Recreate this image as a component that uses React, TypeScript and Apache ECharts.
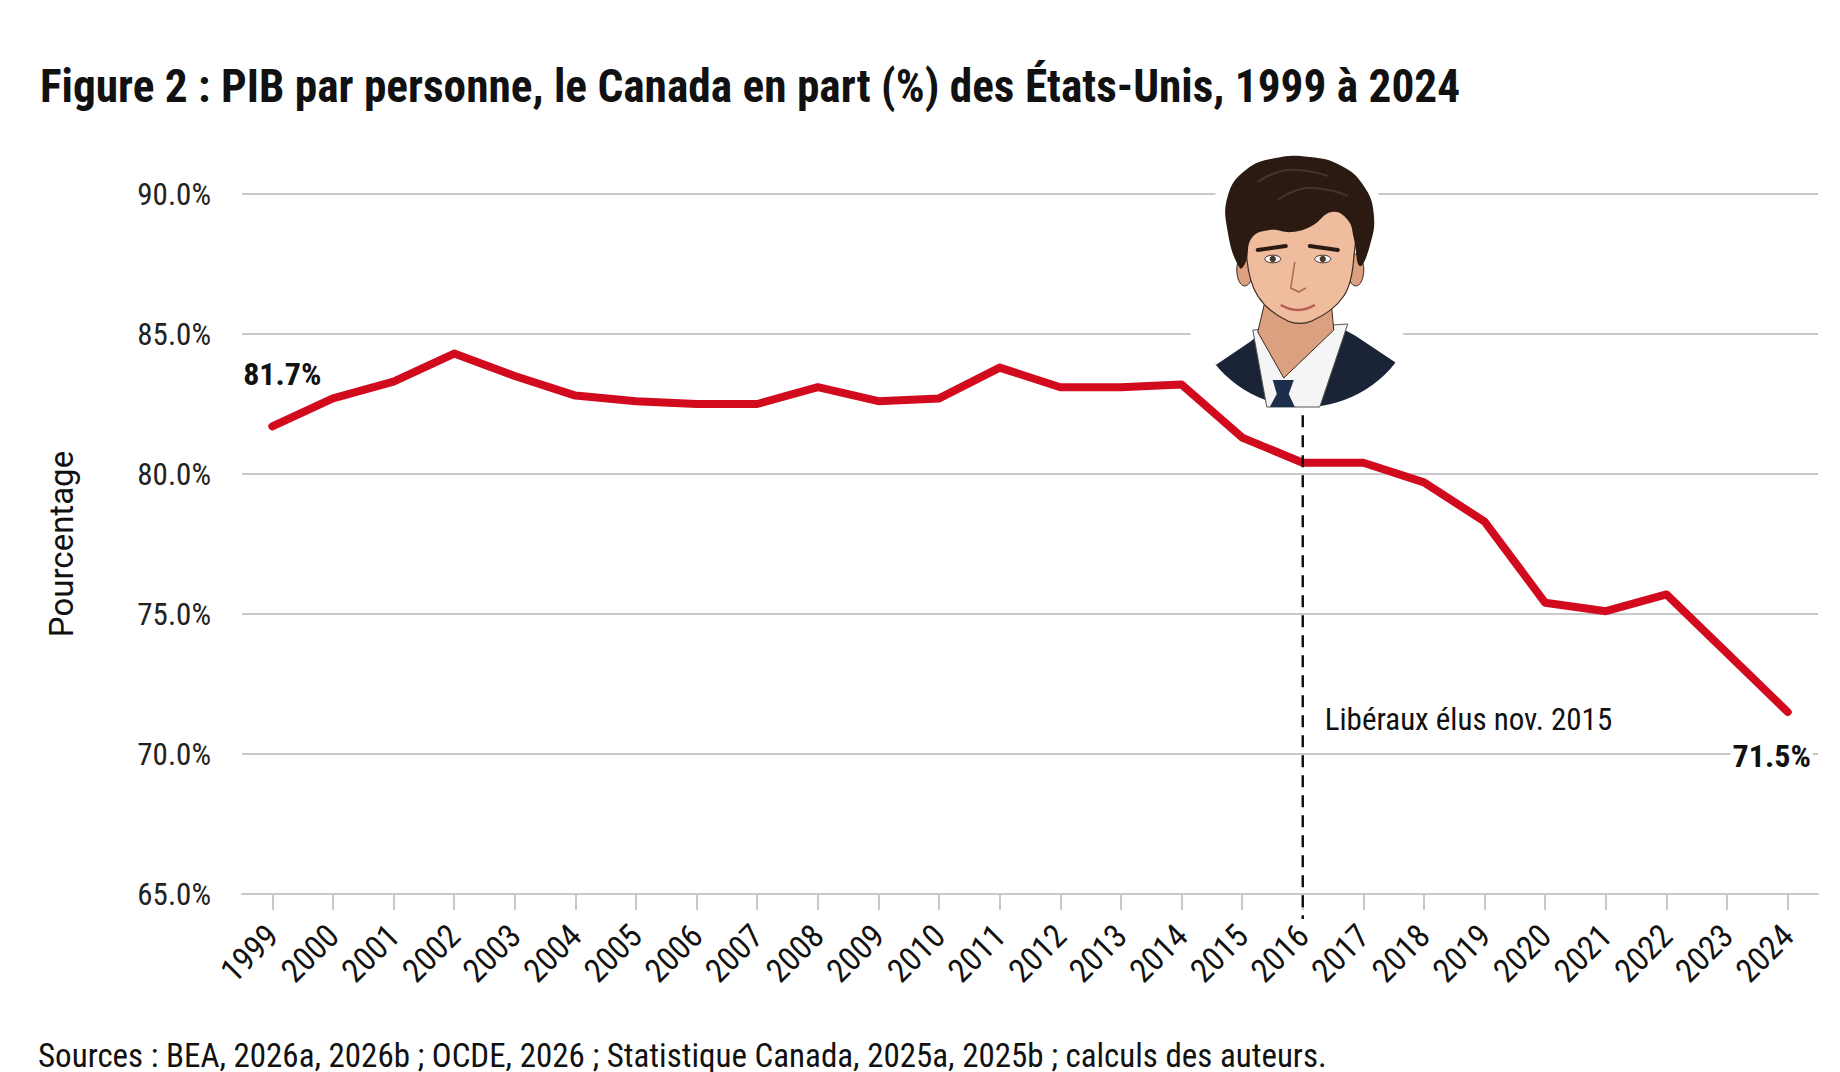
import React, { useEffect, useRef } from "react";
import * as echarts from "echarts";

const TITLE = "Figure 2 : PIB par personne, le Canada en part (%) des États-Unis, 1999 à 2024";
const SOURCE = "Sources : BEA, 2026a, 2026b ; OCDE, 2026 ; Statistique Canada, 2025a, 2025b ; calculs des auteurs.";
const Y_NAME = "Pourcentage";
const ANNOTATION = "Libéraux élus nov. 2015";

const years = [
  "1999", "2000", "2001", "2002", "2003", "2004", "2005", "2006", "2007", "2008",
  "2009", "2010", "2011", "2012", "2013", "2014", "2015", "2016", "2017", "2018",
  "2019", "2020", "2021", "2022", "2023", "2024",
];
const shareOfUS = [
  81.7, 82.7, 83.3, 84.3, 83.5, 82.8, 82.6, 82.5, 82.5, 83.1,
  82.6, 82.7, 83.8, 83.1, 83.1, 83.2, 81.3, 80.4, 80.4, 79.7,
  78.3, 75.4, 75.1, 75.7, 73.6, 71.5,
];
const Y_MIN = 65;
const Y_MAX = 90;
const Y_STEP = 5;
const ELECTION_YEAR = "2016";
const LABELLED_YEARS = ["1999", "2024"];

const COND = "'Roboto Condensed', 'Liberation Sans Narrow', 'Arial Narrow', 'DejaVu Sans Condensed', Roboto, sans-serif";
const RED = "#d20a1e";
const GRID = "#c9c9c9";

function portrait(cx: number): any[] {
  const skin = "#efbd9e";
  const skinDark = "#dba07f";
  const hair = "#2a1a12";
  const navy = "#1b2436";
  const line = "#3a2a22";
  const P = (dx: number, y: number) => [cx + dx, y];
  const arc: number[][] = [];
  for (let a = 38; a <= 142; a += 4) {
    const r = (a * Math.PI) / 180;
    arc.push([cx + 7 + 115 * Math.cos(r), 292 + 115 * Math.sin(r)]);
  }
  const suit = [P(-82, 365), P(-48, 342), P(-32, 330), P(40, 326), P(58, 336), P(97, 362), ...arc];
  return [
    { type: "ellipse", z: 1, shape: { cx: cx - 1, cy: 290, rx: 112, ry: 140 }, style: { fill: "#ffffff" } },
    { type: "polygon", z: 5, shape: { points: suit }, style: { fill: navy } },
    { type: "polygon", z: 5, shape: { points: [P(-45, 330), P(50, 324), P(22, 407), P(-31, 407)] }, style: { fill: "#f5f5f5", stroke: "#555", lineWidth: 1 } },
    { type: "polygon", z: 5, shape: { points: [P(-32, 298), P(33, 298), P(36, 330), P(-14, 378), P(-40, 332)] }, style: { fill: skinDark, stroke: line, lineWidth: 1 } },
    { type: "polygon", z: 5, shape: { points: [P(-25, 380), P(-4, 380), P(-9, 394), P(-21, 394)] }, style: { fill: "#1d2e4d" } },
    { type: "polygon", z: 5, shape: { points: [P(-21, 394), P(-9, 394), P(-3, 407), P(-28, 407)] }, style: { fill: "#1d2e4d" } },
    { type: "ellipse", z: 5, shape: { cx: cx - 53, cy: 270, rx: 8, ry: 16 }, style: { fill: skinDark, stroke: line, lineWidth: 1 } },
    { type: "ellipse", z: 5, shape: { cx: cx + 58, cy: 270, rx: 8, ry: 16 }, style: { fill: skinDark, stroke: line, lineWidth: 1 } },
    {
      type: "polygon", z: 5,
      shape: { smooth: 0.35, points: [P(-48, 212), P(52, 212), P(56, 258), P(46, 296), P(14, 321), P(-10, 321), P(-40, 296), P(-51, 258)] },
      style: { fill: skin, stroke: line, lineWidth: 1.2 },
    },
    {
      type: "polygon", z: 6,
      shape: {
        smooth: 0.45,
        points: [
          P(-58, 268), P(-70, 232), P(-70, 196), P(-52, 170), P(-22, 158), P(12, 157), P(44, 166),
          P(66, 186), P(76, 214), P(72, 246), P(62, 266), P(56, 238), P(50, 220), P(34, 212),
          P(14, 226), P(-6, 232), P(-28, 230), P(-46, 238), P(-52, 262),
        ],
      },
      style: { fill: hair },
    },
    { type: "polyline", z: 7, shape: { smooth: 0.5, points: [P(-40, 182), P(-10, 170), P(30, 176)] }, style: { stroke: "#4a3226", lineWidth: 2, fill: null } },
    { type: "polyline", z: 7, shape: { smooth: 0.5, points: [P(-20, 200), P(10, 188), P(50, 196)] }, style: { stroke: "#4a3226", lineWidth: 2, fill: null } },
    { type: "line", z: 7, shape: { x1: cx - 40, y1: 250, x2: cx - 12, y2: 246 }, style: { stroke: hair, lineWidth: 4, lineCap: "round" } },
    { type: "line", z: 7, shape: { x1: cx + 12, y1: 246, x2: cx + 40, y2: 250 }, style: { stroke: hair, lineWidth: 4, lineCap: "round" } },
    { type: "ellipse", z: 7, shape: { cx: cx - 25, cy: 259, rx: 8, ry: 3.8 }, style: { fill: "#fff", stroke: line, lineWidth: 1 } },
    { type: "ellipse", z: 7, shape: { cx: cx + 25, cy: 259, rx: 8, ry: 3.8 }, style: { fill: "#fff", stroke: line, lineWidth: 1 } },
    { type: "circle", z: 8, shape: { cx: cx - 25, cy: 259, r: 3.2 }, style: { fill: "#4a3a2a" } },
    { type: "circle", z: 8, shape: { cx: cx + 25, cy: 259, r: 3.2 }, style: { fill: "#4a3a2a" } },
    { type: "polyline", z: 7, shape: { points: [P(-3, 262), P(-7, 288), P(1, 292), P(8, 288)] }, style: { stroke: "#a86c54", lineWidth: 1.6, fill: null } },
    { type: "polyline", z: 7, shape: { smooth: 0.5, points: [P(-17, 305), P(0, 310), P(17, 305)] }, style: { stroke: "#b55e50", lineWidth: 2.5, fill: null } },
  ];
}

export default function App() {
  const ref = useRef<HTMLDivElement>(null);

  useEffect(() => {
    document.body.style.margin = "0";
    const chart = echarts.init(ref.current!, null, { renderer: "svg" });

    const seriesData = shareOfUS.map((v, i) => {
      const y = years[i];
      if (!LABELLED_YEARS.includes(y)) return v;
      const first = i === 0;
      return {
        value: v,
        label: {
          show: true,
          position: first ? "top" : "bottom",
          distance: first ? 36 : 27,
          offset: first ? [10, 0] : [-16, 0],
          formatter: (p: any) => `${p.value.toFixed(1)}%`,
          fontFamily: COND,
          fontSize: 32,
          fontWeight: 700,
          color: "#111",
          backgroundColor: "#fff",
          padding: [0, 2],
        },
      };
    });

    chart.setOption({
      animation: false,
      backgroundColor: "#ffffff",
      grid: { left: 242, right: 22, top: 194, bottom: 178, containLabel: false },
      xAxis: {
        type: "category",
        data: years,
        boundaryGap: true,
        axisLine: { show: true, lineStyle: { color: GRID, width: 2 } },
        axisTick: { show: true, alignWithLabel: true, length: 16, lineStyle: { color: GRID, width: 2 } },
        axisLabel: {
          interval: 0,
          rotate: 45,
          margin: 36,
          fontFamily: COND,
          fontSize: 33,
          fontWeight: 400,
          color: "#111",
          hideOverlap: false,
        },
        splitLine: { show: false },
      },
      yAxis: {
        type: "value",
        min: Y_MIN,
        max: Y_MAX,
        interval: Y_STEP,
        name: Y_NAME,
        nameLocation: "middle",
        nameGap: 164,
        nameTextStyle: { fontFamily: "Roboto, 'Liberation Sans', sans-serif", fontSize: 33, color: "#111" },
        axisLine: { show: false },
        axisTick: { show: false },
        axisLabel: {
          margin: 31,
          fontFamily: COND,
          fontSize: 31,
          fontWeight: 400,
          color: "#222",
          formatter: (v: number) => `${v.toFixed(1)}%`,
        },
        splitLine: { show: true, lineStyle: { color: GRID, width: 2 } },
      },
      series: [
        {
          type: "line",
          data: seriesData,
          symbol: "circle",
          symbolSize: 1,
          showSymbol: true,
          itemStyle: { color: RED },
          lineStyle: { color: RED, width: 8, join: "round", cap: "round" },
          z: 3,
        },
      ],
    });

    const idx = years.indexOf(ELECTION_YEAR);
    const top = chart.convertToPixel({ gridIndex: 0 }, [idx, 82.1]) as number[];
    const base = chart.convertToPixel({ gridIndex: 0 }, [idx, Y_MIN]) as number[];
    const note = chart.convertToPixel({ gridIndex: 0 }, [idx, 71.25]) as number[];

    chart.setOption({
      graphic: [
        {
          type: "text",
          z: 10,
          style: { text: TITLE, x: 40, y: 86, verticalAlign: "middle", fontFamily: COND, fontSize: 45.3, fontWeight: 700, fill: "#111" },
        },
        {
          type: "text",
          z: 10,
          style: { text: SOURCE, x: 38, y: 1055, verticalAlign: "middle", fontFamily: COND, fontSize: 33, fill: "#111" },
        },
        {
          type: "line",
          z: 4,
          shape: { x1: top[0], y1: top[1], x2: base[0], y2: base[1] + 25 },
          style: { stroke: "#111", lineWidth: 2.5, lineDash: [12, 8] },
        },
        {
          type: "text",
          z: 10,
          style: { text: ANNOTATION, x: note[0] + 22, y: note[1], verticalAlign: "middle", fontFamily: COND, fontSize: 31, fontWeight: 400, fill: "#111" },
        },
        ...portrait(top[0] - 5),
      ],
    });

    return () => chart.dispose();
  }, []);

  return <div ref={ref} style={{ width: 1840, height: 1072 }} />;
}
